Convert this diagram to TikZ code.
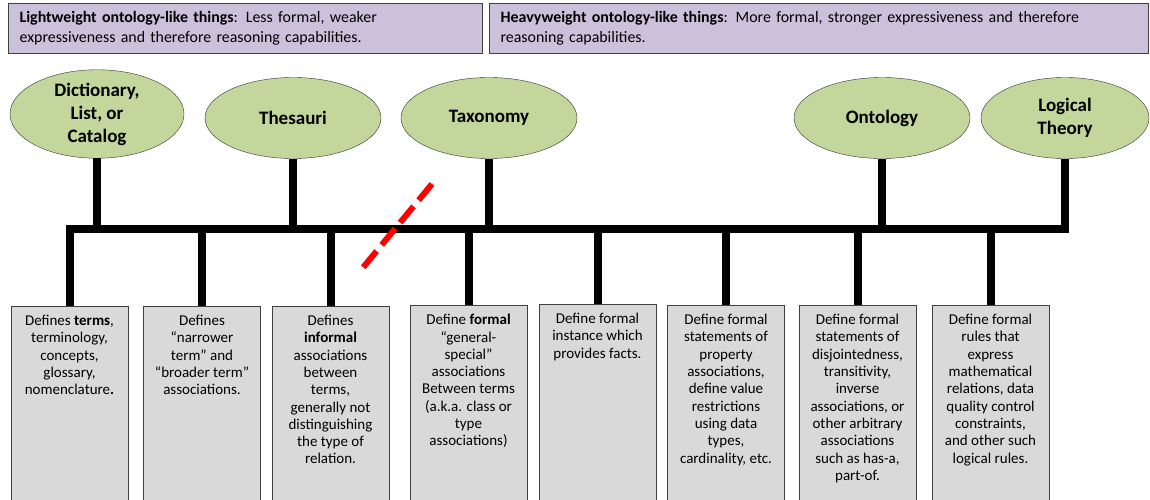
\documentclass[tikz,border=0pt]{standalone}
\usepackage{fontspec}
\setmainfont{Carlito}
\usepackage{tikz}
\usetikzlibrary{shapes.geometric,calc}
\definecolor{lavender}{HTML}{CCC1DA}
\definecolor{leafgreen}{HTML}{C3D69B}
\definecolor{boxgray}{HTML}{D9D9D9}
\definecolor{edgegray}{HTML}{404040}

\begin{document}
\begin{tikzpicture}[x=1pt, y=1pt, line join=miter]
\tikzstyle{weight}=[draw=edgegray, line width=1.2pt, fill=lavender, anchor=north west, minimum height=50pt, align=left, inner xsep=11pt, font=\fontsize{15.9}{20}\selectfont]
\tikzstyle{kind}=[ellipse, draw=black!80, fill=leafgreen, minimum width=176pt, minimum height=81pt, inner sep=0pt, align=center, font=\bfseries\fontsize{19}{23}\selectfont]
\tikzstyle{descbox}=[draw=edgegray, line width=1pt, fill=boxgray, anchor=north, minimum width=117pt, minimum height=200pt]
\tikzstyle{desc}=[anchor=north, align=center, inner xsep=3pt, inner ysep=9pt, font=\fontsize{15}{17.3}\selectfont]
\tikzstyle{stem}=[line width=8pt]
\tikzstyle{cut}=[red, line width=6pt, dash pattern=on 21pt off 8pt]
\useasboundingbox (0,0) rectangle (1150,-500);

\node[weight, text width=452pt] (light) at (8,-3) {\textbf{Lightweight ontology-like things}: Less formal, weaker\\expressiveness and therefore reasoning capabilities.};
\node[weight, text width=637pt] (heavy) at (489,-3) {\textbf{Heavyweight ontology-like things}: More formal, stronger expressiveness and therefore\\reasoning capabilities.};

\node[kind, minimum width=174pt] (dict) at (97,-114) {Dictionary,\\List, or\\Catalog};
\node[kind] (thes) at (293,-118) {Thesauri};
\node[kind] (taxo) at (489,-118) {Taxonomy};
\node[kind] (onto) at (882,-118) {Ontology};
\node[kind, minimum width=168pt] (logic) at (1065,-118) {Logical\\Theory};

\node[descbox, label={[desc]north:Defines \textbf{terms},\\terminology,\\concepts,\\glossary,\\nomenclature\textbf{.}}] (b1) at (69.5,-306) {};
\node[descbox, label={[desc]north:Defines\\“narrower\\term” and\\“broader term”\\associations.}] (b2) at (202,-306) {};
\node[descbox, label={[desc]north:Defines\\\textbf{informal}\\associations\\between\\terms,\\generally not\\distinguishing\\the type of\\relation.}] (b3) at (330.5,-306) {};
\node[descbox, label={[desc]north:Define \textbf{formal}\\“general-\\special”\\associations\\Between terms\\(a.k.a. class or\\type\\associations)}] (b4) at (468.5,-305) {};
\node[descbox, label={[desc]north:Define formal\\instance which\\provides facts.}] (b5) at (597.5,-304) {};
\node[descbox, label={[desc]north:Define formal\\statements of\\property\\associations,\\define value\\restrictions\\using data\\types,\\cardinality, etc.}] (b6) at (726,-305) {};
\node[descbox, label={[desc]north:Define formal\\statements of\\disjointedness,\\transitivity,\\inverse\\associations, or\\other arbitrary\\associations\\such as has-a,\\part-of.}] (b7) at (857.5,-305) {};
\node[descbox, label={[desc]north:Define formal\\rules that\\express\\mathematical\\relations, data\\quality control\\constraints,\\and other such\\logical rules.}] (b8) at (990.5,-305) {};

\coordinate (bus) at (0,-228.5);
\draw[stem] (b1.north) |- (logic.south |- bus) -- (logic.south);
\foreach \n in {dict,thes,taxo,onto}
  \draw[stem] (\n.south) -- (\n.south |- bus);
\foreach \i in {2,...,8}
  \draw[stem] (b\i.north) -- (b\i.north |- bus);

\coordinate (cutA) at (432,-184);
\coordinate (cutB) at (361,-270);
\draw[cut] (cutA) -- (cutB);
\end{tikzpicture}
\end{document}
